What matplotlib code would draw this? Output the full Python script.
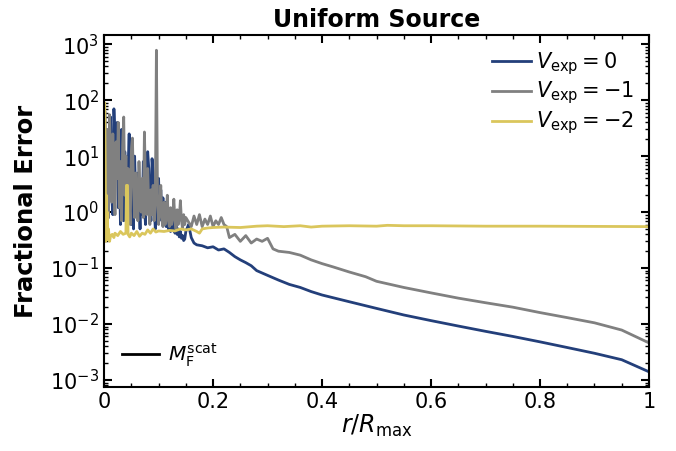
import numpy as np
import matplotlib
matplotlib.use("Agg")
import matplotlib.pyplot as plt
from matplotlib.lines import Line2D
from matplotlib.ticker import MultipleLocator, LogLocator, NullFormatter

# noisy inner region, sampled every 0.002 in r/R_max
r_inner = np.round(np.arange(0.002, 0.1501, 0.002), 3)

err0_inner = [0.4, 30, 3, 0.8, 15, 50, 2, 0.9, 70, 20,
              5, 40, 1.2, 8, 0.6, 30, 2, 0.7, 12, 3,
              0.5, 6, 25, 1, 0.6, 4, 0.5, 10, 2, 0.8,
              5, 1.5, 0.5, 3, 0.9, 8, 1.2, 0.6, 4, 12,
              6, 1.5, 0.7, 9, 5, 1.2, 0.5, 3, 1, 4,
              0.8, 2.5, 0.7, 1.8, 0.6, 1.5, 0.55, 1.2, 0.5, 0.9,
              0.45, 0.8, 0.5, 0.7, 0.42, 0.6, 0.4, 0.5, 0.36, 0.45,
              0.34, 0.38, 0.31, 0.33, 0.45]

err1_inner = [60, 2, 30, 0.8, 55, 5, 1.5, 25, 3, 0.9,
              18, 4, 40, 1.2, 8, 0.7, 15, 50, 2, 10,
              0.8, 6, 1.5, 0.6, 12, 21, 3, 0.8, 5, 1.5,
              0.7, 8, 2, 1.0, 4, 0.8, 27, 3, 0.9, 6,
              1.2, 0.6, 2.5, 0.9, 3, 0.7, 1.5, 780, 2, 0.6,
              1.2, 3, 0.8, 0.55, 1.5, 0.6, 0.9, 2, 0.7, 0.55,
              1.2, 0.6, 0.9, 1.7, 0.7, 0.5, 1.1, 0.6, 0.8, 1.6,
              0.7, 0.5, 0.9, 0.6, 0.8]

# smoother outer region
r0_outer = [0.155, 0.16, 0.165, 0.17, 0.18, 0.19, 0.2, 0.21, 0.22, 0.23,
            0.24, 0.25, 0.26, 0.27, 0.28, 0.3, 0.32, 0.34, 0.36, 0.38,
            0.4, 0.45, 0.5, 0.55, 0.6, 0.65, 0.7, 0.75, 0.8, 0.85,
            0.9, 0.95, 1.0]
err0_outer = [0.6, 0.35, 0.28, 0.26, 0.25, 0.23, 0.24, 0.21, 0.22, 0.19,
              0.16, 0.14, 0.125, 0.11, 0.09, 0.074, 0.061, 0.051, 0.045, 0.038,
              0.033, 0.025, 0.019, 0.0145, 0.0115, 0.0092, 0.0074, 0.006, 0.0048, 0.0038,
              0.003, 0.0023, 0.0014]

r1_outer = [0.16, 0.165, 0.17, 0.175, 0.18, 0.185, 0.19, 0.195, 0.2, 0.205,
            0.21, 0.215, 0.22, 0.225, 0.23, 0.24,
            0.25, 0.26, 0.27, 0.28, 0.29, 0.3, 0.31, 0.32, 0.34, 0.36,
            0.38, 0.4, 0.42, 0.45, 0.48, 0.5, 0.55, 0.6, 0.65, 0.7,
            0.75, 0.8, 0.85, 0.9, 0.95, 1.0]
err1_outer = [0.55, 0.85, 0.6, 0.9, 0.55, 0.75, 0.6, 0.85, 0.55, 0.7,
              0.6, 0.8, 0.6, 0.55, 0.35, 0.4,
              0.3, 0.38, 0.28, 0.33, 0.3, 0.34, 0.22, 0.2, 0.19, 0.17,
              0.14, 0.12, 0.105, 0.085, 0.07, 0.058, 0.045, 0.036, 0.029, 0.024,
              0.02, 0.016, 0.013, 0.0105, 0.0078, 0.0046]

r2 = [0.0, 0.001, 0.002, 0.003, 0.004, 0.005, 0.006, 0.007, 0.008, 0.01,
      0.012, 0.015, 0.018, 0.02, 0.025, 0.03, 0.035, 0.04, 0.041, 0.043,
      0.044, 0.047, 0.05, 0.055, 0.06, 0.065, 0.07, 0.075, 0.08, 0.085,
      0.09, 0.095, 0.1, 0.11, 0.12, 0.13, 0.14, 0.15, 0.16, 0.17,
      0.175, 0.18, 0.19, 0.2, 0.22, 0.25, 0.28, 0.3, 0.33, 0.36,
      0.38, 0.4, 0.45, 0.5, 0.52, 0.55, 0.6, 0.65, 0.7, 0.8,
      0.9, 1.0]
err2 = [0.5, 90, 8, 0.3, 2, 0.35, 1.0, 0.32, 0.5, 0.3,
        0.38, 0.4, 0.35, 0.42, 0.38, 0.45, 0.4, 0.42, 3.0, 3.0,
        0.4, 0.36, 0.42, 0.38, 0.45, 0.37, 0.42, 0.4, 0.48, 0.42,
        0.5, 0.44, 0.46, 0.45, 0.47, 0.46, 0.5, 0.48, 0.5, 0.45,
        0.42, 0.5, 0.52, 0.53, 0.54, 0.53, 0.56, 0.57, 0.55, 0.57,
        0.54, 0.56, 0.57, 0.56, 0.58, 0.57, 0.57, 0.565, 0.56, 0.56,
        0.555, 0.55]

labels = [r"$V_{\rm exp} = 0$", r"$V_{\rm exp} = -1$", r"$V_{\rm exp} = -2$"]
colors = ["#233f7a", "#808080", "#dac65c"]

r0 = np.concatenate([r_inner, r0_outer])
err0 = np.concatenate([err0_inner, err0_outer])
r1 = np.concatenate([r_inner, r1_outer])
err1 = np.concatenate([err1_inner, err1_outer])

fig = plt.figure(figsize=(6.76, 4.51), dpi=100)
ax = fig.add_axes([0.154, 0.142, 0.806, 0.780])

ax.plot(r0, err0, color=colors[0], lw=2, label=labels[0])
ax.plot(r1, err1, color=colors[1], lw=2, label=labels[1])
ax.plot(r2, err2, color=colors[2], lw=2, label=labels[2])

ax.set_yscale("log")
ax.set_xlim(0, 1)
ax.set_ylim(7.5e-4, 1.45e3)

ax.set_xticks([0, 0.2, 0.4, 0.6, 0.8, 1.0])
ax.set_xticklabels(["0", "0.2", "0.4", "0.6", "0.8", "1"])
ax.xaxis.set_minor_locator(MultipleLocator(0.05))
ax.yaxis.set_major_locator(LogLocator(base=10, numticks=20))
ax.yaxis.set_minor_locator(LogLocator(base=10, subs=np.arange(2, 10), numticks=20))
ax.yaxis.set_minor_formatter(NullFormatter())

ax.tick_params(which="both", direction="in", top=True, right=True, labelsize=15)
ax.tick_params(which="major", length=6, width=1.5)
ax.tick_params(which="minor", length=3, width=1)
for s in ax.spines.values():
    s.set_linewidth(1.5)

ax.set_title("Uniform Source", fontsize=17, fontweight="bold", pad=6)
ax.set_xlabel(r"$r/R_{\rm max}$", fontsize=17, labelpad=1)
ax.set_ylabel("Fractional Error", fontsize=17.5, fontweight="bold")
ax.yaxis.set_label_coords(-0.122, 0.5)

leg1 = ax.legend(loc="upper right", frameon=False, fontsize=15,
                 handlelength=1.85, handletextpad=0.25,
                 borderaxespad=0.3, labelspacing=0.15)
ax.add_artist(leg1)
ax.legend([Line2D([], [], color="black", lw=2)], [r"$M_{\rm F}^{\rm scat}$"],
          loc="lower left", frameon=False, fontsize=14.5,
          handlelength=1.85, handletextpad=0.4)

fig.savefig("out.png", dpi=100)
